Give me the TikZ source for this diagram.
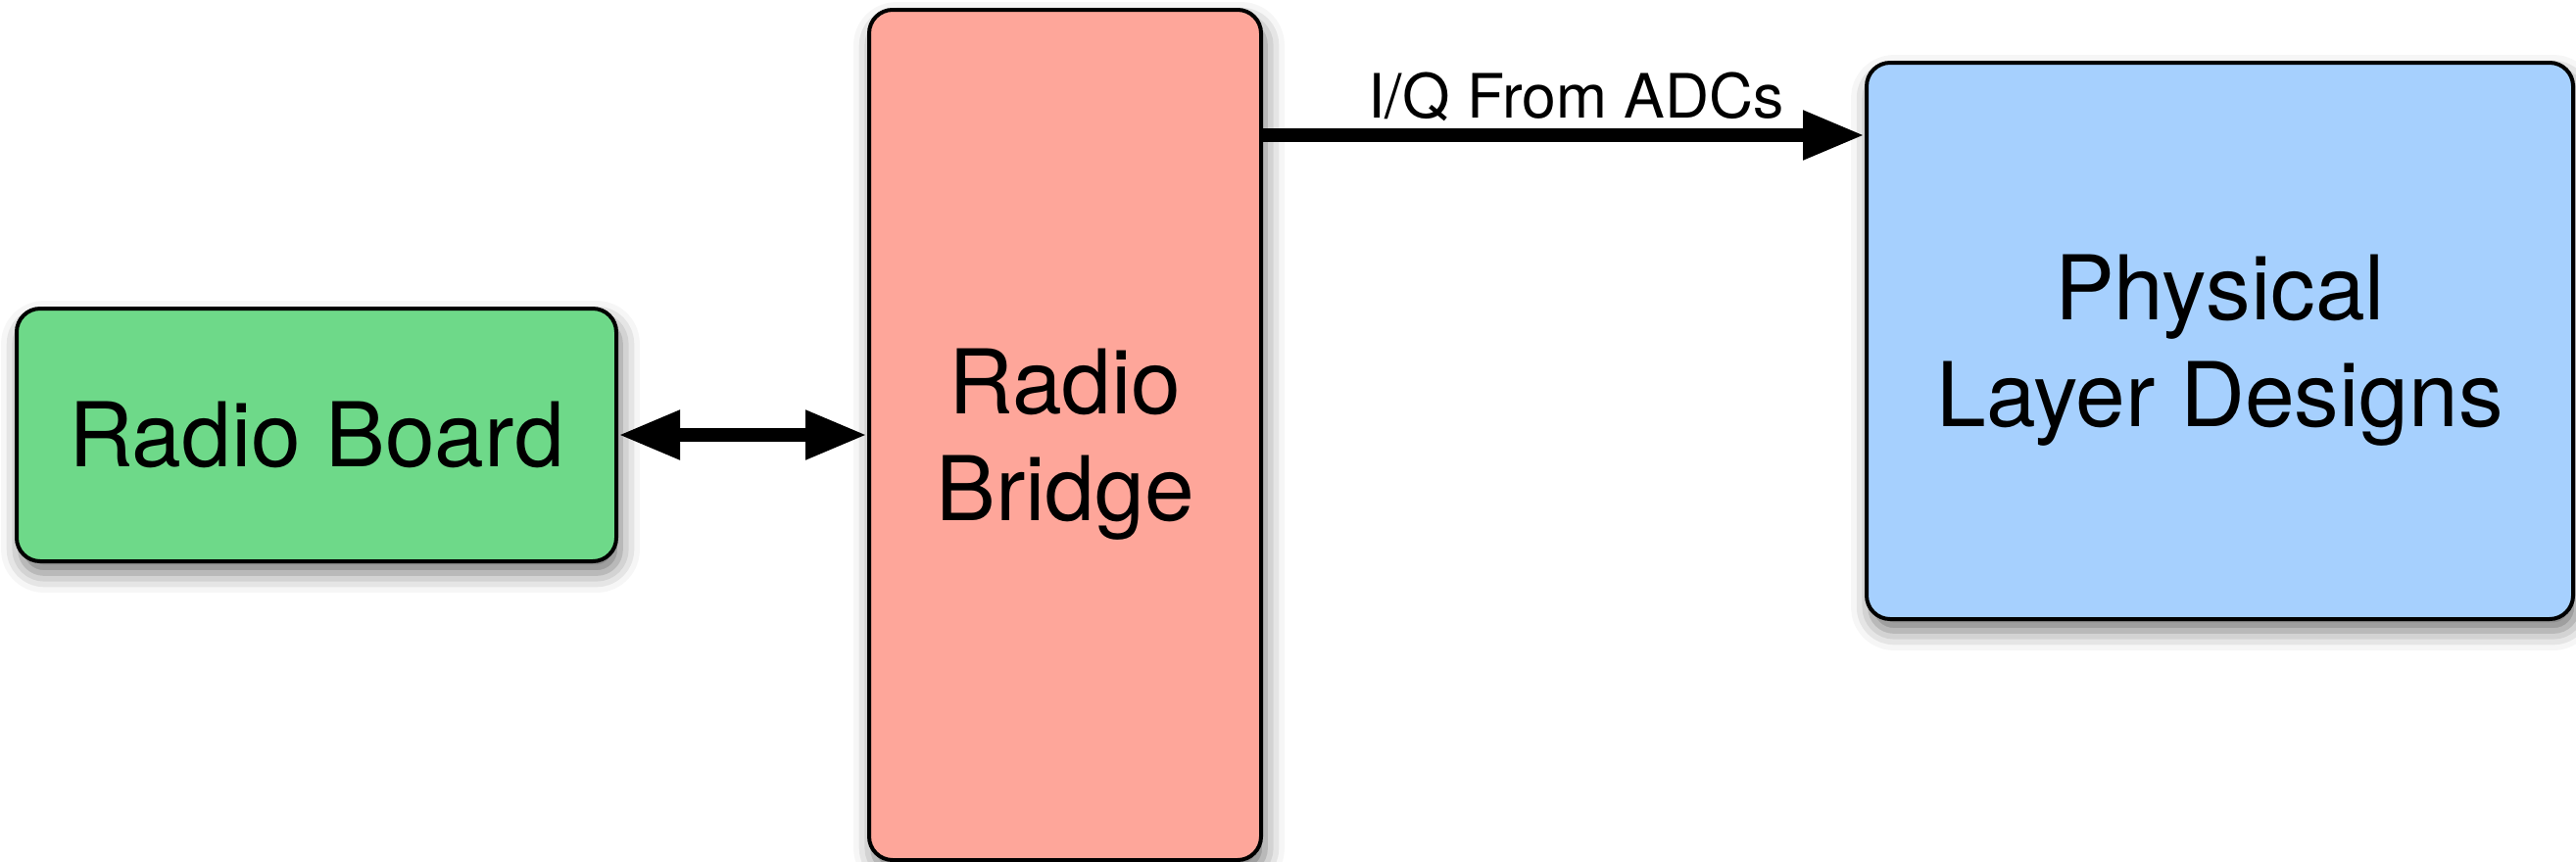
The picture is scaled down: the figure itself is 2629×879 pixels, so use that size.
\documentclass[tikz,border=0pt]{standalone}
\usepackage{fontspec}
\setmainfont{TeX Gyre Heros}
\usetikzlibrary{arrows.meta,shadows.blur}
\definecolor{boardgreen}{RGB}{110,217,137}
\definecolor{bridgered}{RGB}{254,166,154}
\definecolor{phyblue}{RGB}{166,208,254}
\begin{document}
\begin{tikzpicture}[x=0.25pt,y=-0.25pt,
  block/.style={draw=black,line width=1pt,rounded corners=6pt,
    blur shadow={shadow xshift=1pt,shadow yshift=-3pt,shadow blur radius=5pt,shadow opacity=55},
    font=\fontsize{22.8pt}{27.25pt}\selectfont,align=center,inner sep=0pt},
  conn/.style={line width=3.5pt,-{Triangle[length=15.75pt,width=11.75pt]}},
  dconn/.style={line width=3.5pt,{Triangle[length=15.75pt,width=11.75pt]}-{Triangle[length=15.75pt,width=11.75pt]}},
  lbl/.style={font=\fontsize{15.6pt}{18pt}\selectfont,inner sep=0pt}]
\useasboundingbox (0,0) rectangle (2629,879);
\node[block,fill=boardgreen,minimum width=153pt,minimum height=64.5pt] (rb) at (323,444) {Radio Board};
\node[block,fill=bridgered,minimum width=100pt,minimum height=217pt,text depth=-2.75pt] (br) at (1087,444) {Radio\\Bridge};
\node[block,fill=phyblue,minimum width=180.25pt,minimum height=142pt,text depth=-1.25pt] (phy) at (2265.5,348) {Physical\\Layer Designs};
\draw[dconn] (rb.east) -- (br.west |- rb.east);
\coordinate (q) at ([yshift=-32.5pt]br.north east);
\draw[conn] (q) -- node[lbl,anchor=base,yshift=4.5pt,xshift=3.1pt]{I/Q From ADCs} (q -| phy.west);
\end{tikzpicture}
\end{document}
